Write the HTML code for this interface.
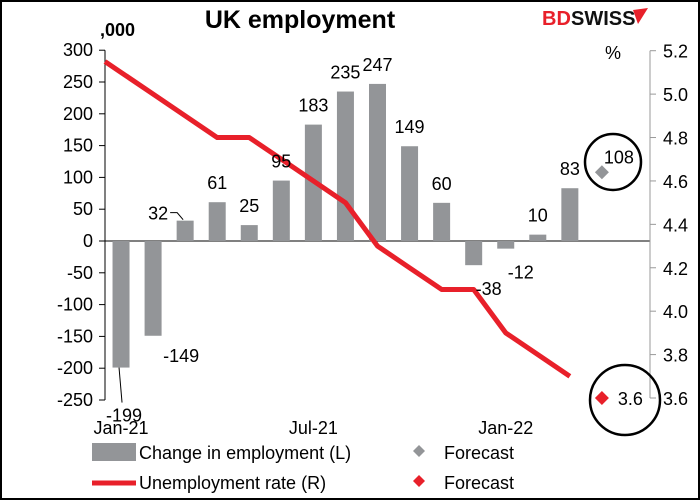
<!DOCTYPE html>
<html><head><meta charset="utf-8"><style>
body{margin:0;background:#fff}
svg{display:block;font-family:"Liberation Sans",Arial,sans-serif}
</style></head><body>
<svg id="chart" width="700" height="500" viewBox="0 0 700 500">
<rect x="1" y="1" width="698" height="498" fill="#fff" stroke="#000" stroke-width="2"/>
<text x="300" y="28" font-size="25" font-weight="bold" text-anchor="middle">UK employment</text>
<g>
<text x="542" y="25" font-size="20" font-weight="bold" fill="#e8202a">BD</text>
<text x="571" y="25" font-size="20" font-weight="bold" fill="#111">SWISS</text>
<polygon points="633,10 648,8 638,24" fill="#e8202a"/>
</g>
<text x="100" y="36" font-size="18" font-weight="bold">,000</text>
<text x="613" y="59" font-size="18" text-anchor="middle">%</text>
<g id="leftAxis"></g><g id="rightAxis"></g><g id="bars"></g><g id="line"></g><g id="labels"></g>
<circle cx="613" cy="162" r="28" fill="none" stroke="#000" stroke-width="2.5"/>
<circle cx="625" cy="400" r="35" fill="none" stroke="#000" stroke-width="2.5"/>
<g>
<rect x="92" y="443" width="44" height="18" fill="#939598"/>
<text x="139" y="459" font-size="18">Change in employment (L)</text>
<path d="M419,445 l6,6 l-6,6 l-6,-6z" fill="#939598"/>
<text x="444" y="459" font-size="18">Forecast</text>
<line x1="92" y1="483" x2="136" y2="483" stroke="#e8202a" stroke-width="5"/>
<text x="139" y="489" font-size="18">Unemployment rate (R)</text>
<path d="M419,475 l6,6 l-6,6 l-6,-6z" fill="#e8202a"/>
<text x="444" y="489" font-size="18">Forecast</text>
</g>
</svg>
<script>
const categories=["Jan-21","Feb-21","Mar-21","Apr-21","May-21","Jun-21","Jul-21","Aug-21","Sep-21","Oct-21","Nov-21","Dec-21","Jan-22","Feb-22","Mar-22","Apr-22"];
const employment=[-199,-149,32,61,25,95,183,235,247,149,60,-38,-12,10,83];
const employmentForecast=108;
const rate=[5.1,5.0,4.9,4.8,4.8,4.7,4.6,4.5,4.3,4.2,4.1,4.1,3.9,3.8,3.7];
const rateBefore=5.2;
const rateForecast=3.6;
const leftTicks=[300,250,200,150,100,50,0,-50,-100,-150,-200,-250];
const rightTicks=[5.2,5.0,4.8,4.6,4.4,4.2,4.0,3.8,3.6];
const xTickLabels=["Jan-21","Jul-21","Jan-22"];
const NS="http://www.w3.org/2000/svg";
const X0=105,X1=650,band=(X1-X0)/17;
const xc=i=>X0+band*(i+0.5);
const yL=v=>241-v*(159/250);
const yR=v=>50.7+(5.2-v)*(347.3/1.6);
function mk(tag,attrs,parent){const e=document.createElementNS(NS,tag);for(const k in attrs)e.setAttribute(k,attrs[k]);document.getElementById(parent).appendChild(e);return e;}
let a=mk('line',{x1:X0,y1:yL(300),x2:X0,y2:yL(-250),stroke:'#000','stroke-width':1},'leftAxis');


leftTicks.forEach(t=>{
 const l=mk('line',{x1:X0-6,x2:X0,y1:yL(t),y2:yL(t),stroke:'#000'},'leftAxis');
 
 
 const tx=mk('text',{x:X0-12,y:yL(t)+6,'font-size':18,'text-anchor':'end'},'leftAxis');tx.textContent=t;
 
 
});
let z=mk('line',{x1:X0,x2:X1,y1:yL(0),y2:yL(0),stroke:'#000'},'leftAxis');


let r=mk('line',{x1:X1,y1:yR(5.2),x2:X1,y2:yR(3.6),stroke:'#999'},'rightAxis');


rightTicks.forEach(t=>{
 const l=mk('line',{x1:X1,x2:X1+6,y1:yR(t),y2:yR(t),stroke:'#999'},'rightAxis');
 
 
 const tx=mk('text',{x:X1+13,y:yR(t)+7,'font-size':18},'rightAxis');tx.textContent=t.toFixed(1);
 
 
});
xTickLabels.forEach(lb=>{
 const i=categories.indexOf(lb);
 const tx=mk('text',{x:xc(i),y:434,'font-size':18,'text-anchor':'middle'},'rightAxis');tx.textContent=lb;
 
 
});
employment.forEach((v,i)=>{
 const y0=yL(0),y1=yL(v);
 const b=mk('rect',{x:xc(i)-8.5,y:Math.min(y0,y1),width:17,height:Math.abs(y1-y0),fill:'#939598'},'bars');
 
 
 let lx=xc(i),ly,anchor='middle';
 if(i===0){lx=xc(i)+3;ly=y1+54;
  const ld=mk('line',{x1:xc(i)-2,y1:y1,x2:xc(i)+1,y2:y1+35,stroke:'#000'},'labels');
  
  }
 else if(i===1){lx=xc(i)+10;ly=y1+26;anchor='start';}
 else if(i===2){lx=xc(i)-17;ly=y1-1;anchor='end';
  const ld=mk('polyline',{points:`${xc(i)-15},${y1-8} ${xc(i)-8},${y1-8} ${xc(i)-2},${y1-1}`,fill:'none',stroke:'#000'},'labels');
  
  }
 else if(v>=0){ly=y1-13;}
 else {lx=xc(i)+15;ly=y1+30;}
 const t=mk('text',{x:lx,y:ly,'font-size':18,'text-anchor':anchor},'labels');t.textContent=v;
 
 
});
const fi=categories.length-1;
let fd=mk('path',{d:`M${xc(fi)},${yL(employmentForecast)-7} l7,7 l-7,7 l-7,-7z`,fill:'#939598'},'labels');


let ft=mk('text',{x:xc(fi)+2,y:yL(employmentForecast)-9,'font-size':18},'labels');ft.textContent=employmentForecast;


const pts=[[xc(-1),yR(rateBefore)]].concat(rate.map((v,i)=>[xc(i),yR(v)]));
const p0=pts[0],p1=pts[1],tcl=(X0-p0[0])/(p1[0]-p0[0]);
pts[0]=[X0,p0[1]+(p1[1]-p0[1])*tcl];
let pl=mk('polyline',{points:pts.map(p=>p.join(',')).join(' '),fill:'none',stroke:'#e8202a','stroke-width':5,'stroke-linejoin':'round'},'line');


let rd=mk('path',{d:`M${xc(fi)},${yR(rateForecast)-7} l7,7 l-7,7 l-7,-7z`,fill:'#e8202a'},'labels');


let rt=mk('text',{x:xc(fi)+16,y:yR(rateForecast)+7,'font-size':18},'labels');rt.textContent=rateForecast.toFixed(1);


</script>
</body></html>
